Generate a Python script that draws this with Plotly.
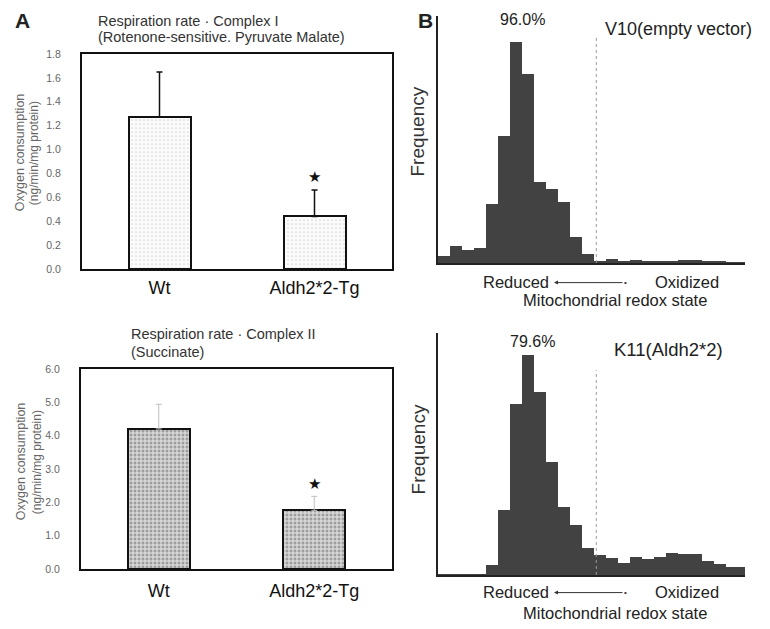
import plotly.graph_objects as go

W, H = 770, 629

# ---------------- data ----------------
categories = ["Wt", "Aldh2*2-Tg"]
complex1_mean = [1.27, 0.44]
complex1_err = [0.38, 0.22]
complex2_mean = [4.20, 1.76]
complex2_err = [0.74, 0.42]

complex1_ticks = [0.0, 0.2, 0.4, 0.6, 0.8, 1.0, 1.2, 1.4, 1.6, 1.8]
complex2_ticks = [0.0, 1.0, 2.0, 3.0, 4.0, 5.0, 6.0]

redox_bin = list(range(26))
v10_freq = [3.1, 7.6, 6.2, 7.1, 26.7, 57.8, 100.0, 85.8, 36.9, 33.8, 27.6, 12.0, 4.0,
            1.0, 1.8, 0.9, 1.5, 1.0, 0.8, 0.8, 1.5, 1.3, 1.2, 1.0, 0.6, 0.3]
k11_freq = [0.4, 0.4, 0.4, 0.4, 4.5, 29.5, 77.7, 100.0, 83.0, 51.3, 30.8, 22.8, 12.5,
            9.4, 8.0, 5.8, 8.5, 7.6, 8.5, 10.3, 9.8, 9.8, 6.7, 4.9, 3.6, 3.6]
redox_threshold = 13.2
v10_label = "96.0%"
k11_label = "79.6%"

FONT = "Liberation Sans, Arial, sans-serif"


def px(x):
    return x / W


def py(y):
    return 1 - y / H


fig = go.Figure()

# ---------- Panel A bars ----------
bar_specs = [
    ("x", "y", complex1_mean, complex1_err, "#fbfbfb", "#b0b0b0", 0.15, "#111111", 1.5),
    ("x2", "y2", complex2_mean, complex2_err, "#d8d8d8", "#606060", 0.45, "#c0c0c0", 1.0),
]
for xa, ya, mean, err, bg, fg, sol, ecol, eth in bar_specs:
    fig.add_trace(go.Bar(
        x=categories, y=mean, xaxis=xa, yaxis=ya, width=0.4,
        marker=dict(color=bg, line=dict(color="#111111", width=2),
                    pattern=dict(shape=".", fgcolor=fg, bgcolor=bg, size=4, solidity=sol)),
        error_y=dict(type="data", symmetric=False, array=err, arrayminus=[0] * len(err),
                     color=ecol, thickness=eth, width=3),
        showlegend=False, hoverinfo="skip",
    ))

# ---------- Panel B histograms ----------
for xa, ya, freq in [("x3", "y3", v10_freq), ("x4", "y4", k11_freq)]:
    fig.add_trace(go.Bar(
        x=[b + 0.5 for b in redox_bin], y=freq, xaxis=xa, yaxis=ya, width=1.0,
        marker=dict(color="#424242", line=dict(width=0)),
        showlegend=False, hoverinfo="skip",
    ))
for xa, ya, top in [("x3", "y3", 103), ("x4", "y4", 93)]:
    fig.add_trace(go.Scatter(
        x=[redox_threshold, redox_threshold], y=[0, top], xaxis=xa, yaxis=ya,
        mode="lines", line=dict(color="#9a9a9a", width=1, dash="dot"),
        showlegend=False, hoverinfo="skip",
    ))

# ---------- axes ----------
box_common = dict(showline=True, linecolor="#111111", linewidth=2, mirror=True,
                  showgrid=False, zeroline=False, ticks="")
fig.update_layout(
    xaxis=dict(domain=[px(82), px(392)], anchor="y", range=[-0.5, 1.5],
               tickfont=dict(size=18, color="#111111", family=FONT), ticklabelstandoff=2, **box_common),
    yaxis=dict(domain=[py(268), py(49)], anchor="x", range=[0, 1.8], tickvals=complex1_ticks,
               tickformat=".1f", tickfont=dict(size=10.5, color="#666666", family=FONT),
               ticklabelstandoff=17, **box_common),
    xaxis2=dict(domain=[px(81), px(392)], anchor="y2", range=[-0.5, 1.5],
                tickfont=dict(size=18, color="#111111", family=FONT), ticklabelstandoff=4, **box_common),
    yaxis2=dict(domain=[py(574), py(370)], anchor="x2", range=[0, 6.0], tickvals=complex2_ticks,
                tickformat=".1f", tickfont=dict(size=10.5, color="#666666", family=FONT),
                ticklabelstandoff=17, **box_common),
    xaxis3=dict(domain=[px(438), px(745)], anchor="y3", range=[0, 25.6], showline=True,
                linecolor="#222222", linewidth=2, showticklabels=False, ticks="",
                showgrid=False, zeroline=False),
    yaxis3=dict(domain=[py(262), py(10)], anchor="x3", range=[0, 112], showline=True,
                linecolor="#222222", linewidth=1.5, showticklabels=False, ticks="",
                showgrid=False, zeroline=False),
    xaxis4=dict(domain=[px(438), px(745)], anchor="y4", range=[0, 25.6], showline=True,
                linecolor="#222222", linewidth=2, showticklabels=False, ticks="",
                showgrid=False, zeroline=False),
    yaxis4=dict(domain=[py(580), py(333)], anchor="x4", range=[0, 110], showline=True,
                linecolor="#222222", linewidth=1.5, showticklabels=False, ticks="",
                showgrid=False, zeroline=False),
    width=W, height=H, margin=dict(l=0, r=0, t=0, b=0),
    paper_bgcolor="white", plot_bgcolor="white", bargap=0,
    font=dict(family=FONT),
)

ann = []


def text(x, y, s, size, color="#222222", xanchor="left", angle=0, bold=False):
    ann.append(dict(x=px(x), y=py(y), xref="paper", yref="paper", text=("<b>%s</b>" % s) if bold else s,
                    showarrow=False, xanchor=xanchor, yanchor="middle", textangle=angle,
                    font=dict(size=size, color=color, family=FONT)))


# panel letters
text(22, 15, "A", 21, "#222222", "center", bold=True)
text(426, 15, "B", 21, "#222222", "center", bold=True)

# panel A titles
text(96, 15, "Respiration rate · Complex I", 14.5, "#333333")
text(96, 32, "(Rotenone-sensitive. Pyruvate Malate)", 14.5, "#333333")
text(129, 334, "Respiration rate · Complex II", 14.5, "#333333")
text(129, 353, "(Succinate)", 14.5, "#333333")

# panel A y titles
text(20, 150, "Oxygen consumption", 12.5, "#666666", "center", angle=-90)
text(34, 150, "(ng/min/mg protein)", 12, "#666666", "center", angle=-90)
text(21, 465, "Oxygen consumption", 12.5, "#666666", "center", angle=-90)
text(37, 465, "(ng/min/mg protein)", 12, "#666666", "center", angle=-90)

# significance stars
for xa, ya, mean, err, shift in [("x", "y", complex1_mean, complex1_err, 14),
                                 ("x2", "y2", complex2_mean, complex2_err, 13)]:
    ann.append(dict(x=categories[1], y=mean[1] + err[1], xref=xa, yref=ya, text="★",
                    showarrow=False, yshift=shift, font=dict(size=15, color="#111111")))

# panel B texts
text(522, 14, v10_label, 16, "#222222", "center")
text(603, 23, "V10(empty vector)", 18, "#222222")
text(418, 128, "Frequency", 19, "#333333", "center", angle=-90)
text(532, 342, k11_label, 16, "#222222", "center")
text(612, 350, "K11(Aldh2*2)", 18.5, "#222222")
text(418, 452, "Frequency", 19, "#333333", "center", angle=-90)

for yr, ym in [(281, 300), (597, 619)]:
    text(481, yr, "Reduced", 16.5, "#222222")
    text(653, yr, "Oxidized", 16.5, "#222222")
    text(521, ym, "Mitochondrial redox state", 16.5, "#222222")
    ann.append(dict(x=px(554), y=py(yr + 1), xref="paper", yref="paper", ax=70, ay=0,
                    text="", showarrow=True, arrowhead=2, arrowsize=0.8, arrowwidth=1,
                    arrowcolor="#333333", axref="pixel", ayref="pixel"))
    text(625, yr + 1, "•", 8, "#333333", "center")

fig.update_layout(annotations=ann)
fig.write_html("out.html")
